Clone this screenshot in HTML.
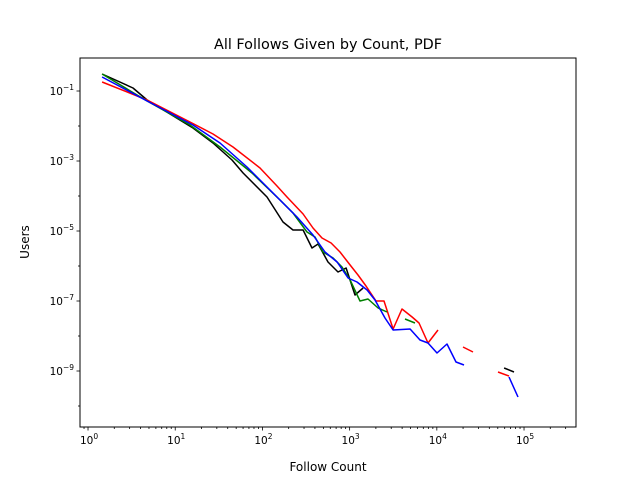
<!DOCTYPE html>
<html><head><meta charset="utf-8"><style>
body{margin:0;background:#fff;}
svg{display:block;font-family:"DejaVu Sans","Liberation Sans",sans-serif;}
</style></head><body>
<svg id="chart" width="640" height="480" viewBox="0 0 640 480">
<rect x="0" y="0" width="640" height="480" fill="#fff"/>
<text x="328" y="49" font-size="14.4" text-anchor="middle">All Follows Given by Count, PDF</text>
<text x="328" y="471" font-size="12" text-anchor="middle">Follow Count</text>
<text x="29" y="242" font-size="12" text-anchor="middle" transform="rotate(-90 29 242)">Users</text>
<g id="ticks"></g>
<g id="series"></g>
<rect x="80" y="58" width="496" height="369" fill="none" stroke="#000" stroke-width="1"/>
</svg>
<script>
// log10 of Follow Count and log10 of Users per series (null = gap)
const redLogX=[0.161,0.677,1.170,1.433,1.663,1.972,2.167,2.282,2.466,2.580,2.683,2.787,2.890,3.005,3.096,3.188,3.303,3.394,3.498,3.601,3.716,3.796,3.899,4.014,null,4.300,4.415,null,4.702,4.828];
const redLogY=[-0.743,-1.257,-1.886,-2.229,-2.6,-3.2,-3.714,-4.029,-4.514,-4.914,-5.2,-5.343,-5.6,-5.971,-6.257,-6.571,-7.0,-7.0,-7.8,-7.229,-7.457,-7.629,-8.2,-7.829,null,-8.314,-8.457,null,-9.029,-9.143];
const blackLogX=[0.161,0.516,0.677,1.204,1.433,1.651,1.778,2.053,2.236,2.351,2.466,2.569,2.638,2.752,2.867,2.959,3.062,3.154,null,4.771,4.885];
const blackLogY=[-0.514,-0.914,-1.257,-2.057,-2.486,-2.971,-3.343,-4.029,-4.743,-4.971,-4.971,-5.486,-5.371,-5.886,-6.171,-6.057,-6.829,-6.629,null,-8.914,-9.029];
const blueLogX=[0.161,0.677,1.204,1.514,1.823,2.167,2.397,2.580,2.718,2.856,2.982,3.085,3.200,3.291,3.406,3.498,3.693,3.807,3.899,4.002,4.117,4.220,4.312,null,4.828,4.931];
const blueLogY=[-0.6,-1.286,-1.971,-2.486,-3.171,-4.029,-4.6,-5.114,-5.6,-5.886,-6.343,-6.457,-6.686,-6.971,-7.486,-7.829,-7.8,-8.114,-8.2,-8.486,-8.229,-8.743,-8.829,null,-9.171,-9.743];
const greenLogX=[0.161,0.677,1.170,1.514,1.881,2.202,2.351,2.511,2.603,2.695,2.810,2.913,3.005,3.119,3.211,3.326,3.429,null,3.635,3.750];
const greenLogY=[-0.514,-1.286,-1.971,-2.6,-3.343,-4.114,-4.486,-5.029,-5.171,-5.6,-5.771,-6.029,-6.4,-7.0,-6.943,-7.2,-7.314,null,-7.514,-7.629];
const xTickExps=[0,1,2,3,4,5];
const yTickExps=[-1,-3,-5,-7,-9];
const yMinorExps=[-2,-4,-6,-8,-10];

const NS="http://www.w3.org/2000/svg";
const X0=80,X1=576,Y0=58,Y1=427;
const xMin=-0.092,xMax=5.596,yMax=-0.057,yMin=-10.6;
function sx(l){return X0+(l-xMin)/(xMax-xMin)*(X1-X0);}
function sy(l){return Y0+(yMax-l)/(yMax-yMin)*(Y1-Y0);}
const tg=document.getElementById('ticks');
function line(x1,y1,x2,y2,name){const e=document.createElementNS(NS,'line');
e.setAttribute('x1',x1);e.setAttribute('y1',y1);e.setAttribute('x2',x2);e.setAttribute('y2',y2);
e.setAttribute('stroke','#000');e.setAttribute('stroke-width','0.8');


tg.appendChild(e);}
function label(x,y,exp,anchor,name){const t=document.createElementNS(NS,'text');
t.setAttribute('x',x);t.setAttribute('y',y);t.setAttribute('font-size','10.5');t.setAttribute('text-anchor',anchor);


const a=document.createElementNS(NS,'tspan');a.textContent='10';t.appendChild(a);
const b=document.createElementNS(NS,'tspan');b.setAttribute('font-size','7.5');b.setAttribute('dy','-5');b.textContent=String(exp).replace('-','\u2212');t.appendChild(b);
tg.appendChild(t);}
xTickExps.forEach(e=>{const x=sx(e);line(x,Y1,x,Y1+3.5,'x-major-tick');label(x+1,Y1+17,e,'middle','x-tick-label');
for(let m=2;m<10;m++){const lx=e+Math.log10(m);if(lx<xMax)line(sx(lx),Y1,sx(lx),Y1+2,'x-minor-tick');}});
for(let m=2;m<10;m++){const lx=-1+Math.log10(m);if(lx>xMin)line(sx(lx),Y1,sx(lx),Y1+2,'x-minor-tick');}
yTickExps.forEach(e=>{const y=sy(e);line(X0-3.5,y,X0,y,'y-major-tick');label(X0-6,y+4,e,'end','y-tick-label');});
yMinorExps.forEach(e=>{const y=sy(e);line(X0-2,y,X0,y,'y-minor-tick');});
const sg=document.getElementById('series');
function draw(xs,ys,color,name){let d='',pen=false;
for(let i=0;i<xs.length;i++){if(xs[i]===null||ys[i]===null){pen=false;continue;}
d+=(pen?'L':'M')+sx(xs[i]).toFixed(1)+' '+sy(ys[i]).toFixed(1)+' ';pen=true;}
const p=document.createElementNS(NS,'path');p.setAttribute('d',d);p.setAttribute('fill','none');
p.setAttribute('stroke',color);p.setAttribute('stroke-width','1.5');p.setAttribute('stroke-linejoin','round');


sg.appendChild(p);}
draw(blackLogX,blackLogY,'#000','series-black');
draw(redLogX,redLogY,'#ff0000','series-red');
draw(greenLogX,greenLogY,'#008000','series-green');
draw(blueLogX,blueLogY,'#0000ff','series-blue');
</script>
</body></html>
